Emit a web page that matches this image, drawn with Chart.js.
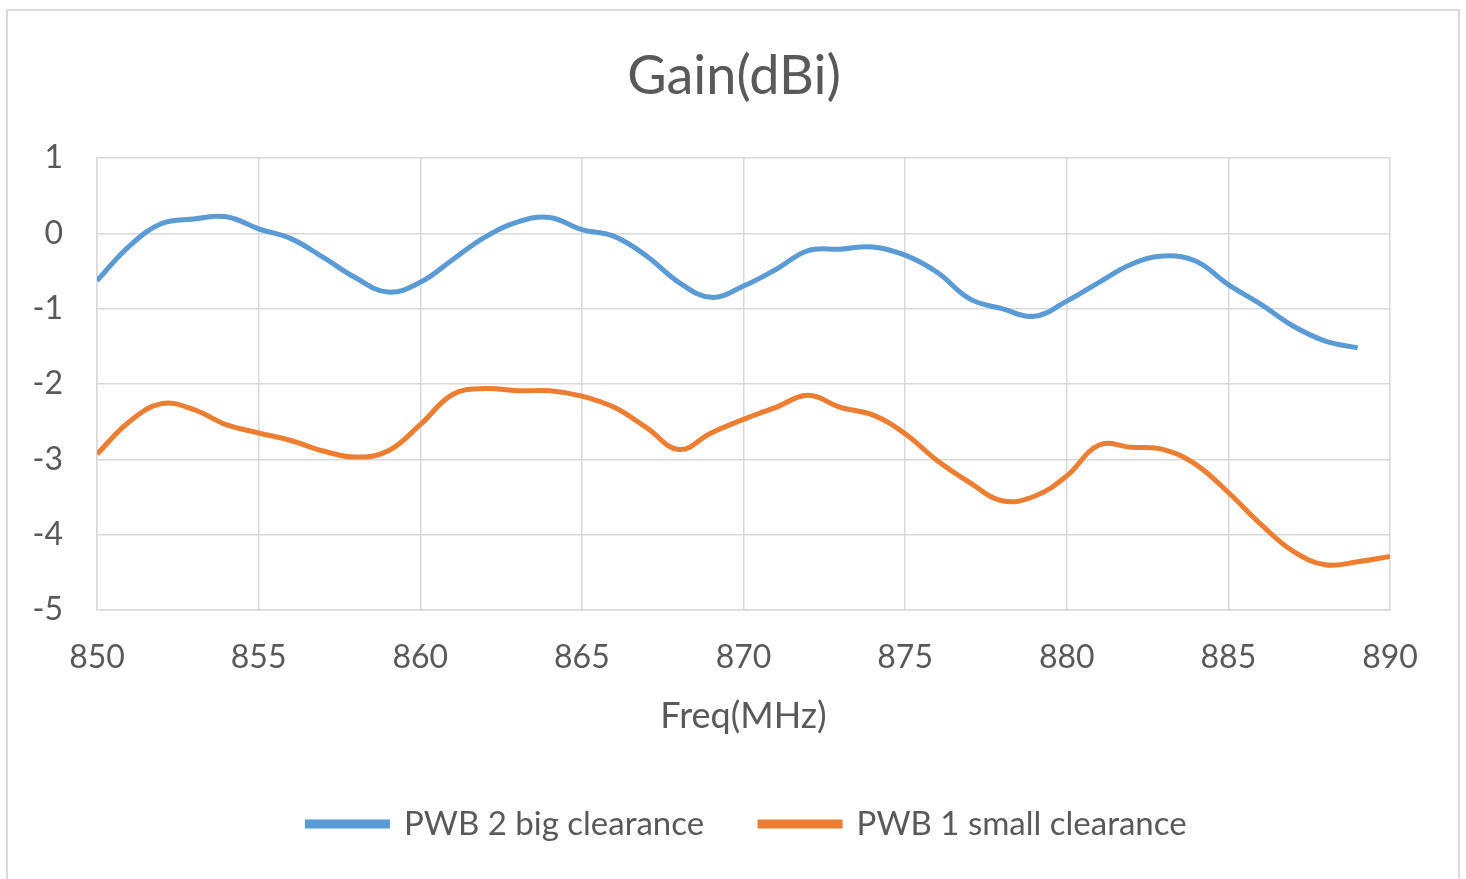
<!DOCTYPE html>
<html>
<head>
<meta charset="utf-8">
<script src="https://cdn.jsdelivr.net/npm/chart.js@4.4.1/dist/chart.umd.min.js"></script>
<style>
  html, body { margin: 0; padding: 0; background: #fff; }
  #frame {
    position: absolute; left: 6px; top: 9px; width: 1454px; height: 880px;
    border: 2px solid #d9d9d9; box-sizing: border-box;
  }
  #wrap { position: absolute; left: 0; top: 0; width: 1466px; height: 879px; }
</style>
</head>
<body>
<div id="frame"></div>
<div id="wrap"><canvas id="gainChart" width="1466" height="879"></canvas></div>
<script>
// frequencies (MHz)
const freqBig = [850, 851, 852, 853, 854, 855, 856, 857, 858, 859,
                 860, 861, 862, 863, 864, 865, 866, 867, 868, 869,
                 870, 871, 872, 873, 874, 875, 876, 877, 878, 879,
                 880, 881, 882, 883, 884, 885, 886, 887, 888, 889];
const freqSmall = [850, 851, 852, 853, 854, 855, 856, 857, 858, 859,
                   860, 861, 862, 863, 864, 865, 866, 867, 868, 869,
                   870, 871, 872, 873, 874, 875, 876, 877, 878, 879,
                   880, 881, 882, 883, 884, 885, 886, 887, 888, 889, 890];

// gain (dBi)
const gainBig = [-0.63, -0.17, 0.13, 0.19, 0.22, 0.06, -0.07, -0.32, -0.59, -0.78,
                 -0.65, -0.35, -0.05, 0.15, 0.21, 0.05, -0.04, -0.30, -0.65, -0.85,
                 -0.70, -0.48, -0.23, -0.21, -0.18, -0.29, -0.52, -0.87, -1.00, -1.10,
                 -0.90, -0.65, -0.41, -0.30, -0.37, -0.68, -0.94, -1.23, -1.43, -1.52];
const gainSmall = [-2.93, -2.50, -2.26, -2.34, -2.54, -2.65, -2.75, -2.89, -2.97, -2.89,
                   -2.54, -2.14, -2.06, -2.09, -2.09, -2.16, -2.31, -2.58, -2.87, -2.65,
                   -2.47, -2.31, -2.15, -2.31, -2.41, -2.66, -3.02, -3.31, -3.55, -3.49,
                   -3.22, -2.81, -2.84, -2.87, -3.07, -3.44, -3.86, -4.22, -4.40, -4.36, -4.29];

const seriesNames = ['PWB 2 big clearance', 'PWB 1 small clearance'];

const FONT = 'Lato, "Open Sans", sans-serif';
const TEXT = '#595959';
const GRID = '#d9d9d9';

function toPoints(xs, ys) {
  return xs.map((x, i) => ({ x: x, y: ys[i] }));
}

// title and legend in excel sit a bit right of the padded box centre
const nudgeBoxes = {
  id: 'nudgeBoxes',
  beforeDraw(chart) {
    if (chart.titleBlock) {
      chart.titleBlock.left = 78;
      chart.titleBlock.right = 1390;
    }
    if (chart.legend) {
      chart.legend.left = 62;
      chart.legend.right = 1432;
    }
  }
};

const ctx = document.getElementById('gainChart').getContext('2d');
new Chart(ctx, {
  type: 'line',
  data: {
    datasets: [{
      label: seriesNames[0],
      data: toPoints(freqBig, gainBig),
      borderColor: '#5b9bd5',
      backgroundColor: '#5b9bd5',
      borderWidth: 5,
      pointRadius: 0,
      tension: 0.4
    }, {
      label: seriesNames[1],
      data: toPoints(freqSmall, gainSmall),
      borderColor: '#ed7d31',
      backgroundColor: '#ed7d31',
      borderWidth: 5,
      pointRadius: 0,
      tension: 0.4
    }]
  },
  plugins: [nudgeBoxes],
  options: {
    responsive: false,
    animation: false,
    layout: { padding: { left: 20, right: 76, top: 0, bottom: 28.5 } },
    plugins: {
      title: {
        display: true,
        text: 'Gain(dBi)',
        color: TEXT,
        font: { family: FONT, size: 54, weight: 'normal' },
        padding: { top: 44.6, bottom: 48.6 }
      },
      legend: {
        position: 'bottom',
        labels: {
          color: TEXT,
          font: { family: FONT, size: 33 },
          boxWidth: 80,
          boxHeight: 4,
          padding: 56
        }
      },
      tooltip: { enabled: false }
    },
    scales: {
      x: {
        type: 'linear',
        min: 850,
        max: 890,
        ticks: {
          stepSize: 5,
          color: TEXT,
          font: { family: FONT, size: 32 },
          padding: 28,
          maxRotation: 0
        },
        grid: { color: GRID, lineWidth: 1.5, drawTicks: false },
        border: { color: GRID, width: 1.5 },
        title: {
          display: true,
          text: 'Freq(MHz)',
          color: TEXT,
          font: { family: FONT, size: 36 },
          padding: { top: 10, bottom: 13.9 }
        },
        afterFit: (scale) => { scale.height = 141.5; }
      },
      y: {
        min: -5,
        max: 1,
        ticks: {
          stepSize: 1,
          color: TEXT,
          font: { family: FONT, size: 32 },
          padding: 34
        },
        grid: { color: GRID, lineWidth: 1.5, drawTicks: false },
        border: { color: GRID, width: 1.5 },
        afterFit: (scale) => { scale.width = 77; }
      }
    }
  }
});
</script>
</body>
</html>
